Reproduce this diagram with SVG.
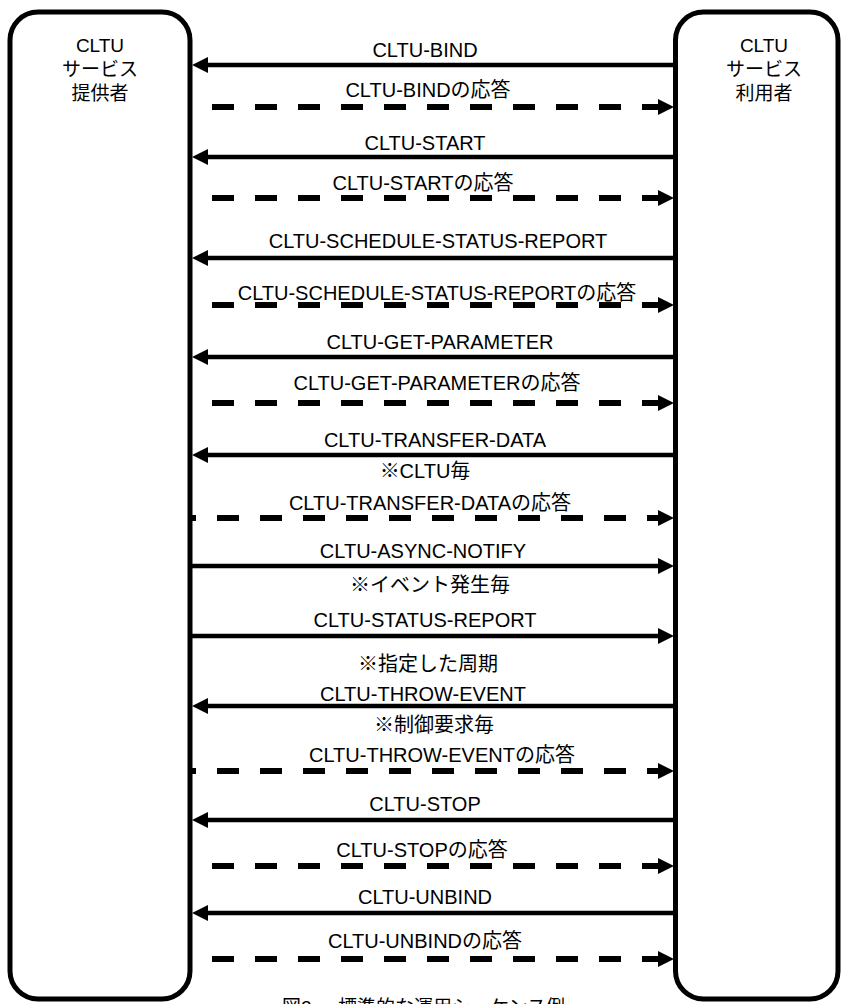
<svg xmlns="http://www.w3.org/2000/svg" width="843" height="1004" viewBox="0 0 843 1004">
<defs>
<style>
.box{fill:#fff;stroke:#000;stroke-width:5}
.t{font-family:"Liberation Sans","Noto Sans CJK JP",sans-serif;font-size:20px;fill:#000;text-anchor:middle}
.bt{font-family:"Liberation Sans","Noto Sans CJK JP",sans-serif;font-size:19px;fill:#000;text-anchor:middle}
.cap{font-family:"Liberation Sans","Noto Sans CJK JP",sans-serif;font-size:19px;fill:#000}
.s{stroke:#000;stroke-width:4.5;fill:none}
.d{stroke:#000;stroke-width:6;fill:none;stroke-dasharray:22 21}
</style>
<marker id="ah" viewBox="0 0 16 16" refX="0" refY="8" markerWidth="16" markerHeight="16" markerUnits="userSpaceOnUse" orient="auto">
<path d="M0,0 L16,8 L0,16 Z" fill="#000"/>
</marker>
</defs>
<rect width="843" height="1004" fill="#fff"/>
<g id="provider">
<rect class="box" x="10" y="12" width="180" height="987" rx="28" ry="28"/>
<text class="bt" x="100" y="52">CLTU</text>
<text class="bt" x="100" y="76">サービス</text>
<text class="bt" x="100" y="100">提供者</text>
</g>
<g id="user">
<rect class="box" x="675.5" y="12" width="162.5" height="987" rx="28" ry="28"/>
<text class="bt" x="764" y="52">CLTU</text>
<text class="bt" x="764" y="76">サービス</text>
<text class="bt" x="764" y="100">利用者</text>
</g>
<g id="connectors">
<path class="s" d="M673,65 H208" marker-end="url(#ah)"/>
<path class="d" d="M212,107 H658" marker-end="url(#ah)"/>
<path class="s" d="M673,157 H208" marker-end="url(#ah)"/>
<path class="d" d="M212,198 H658" marker-end="url(#ah)"/>
<path class="s" d="M673,258 H208" marker-end="url(#ah)"/>
<path class="d" d="M212,305 H658" marker-end="url(#ah)"/>
<path class="s" d="M673,357 H208" marker-end="url(#ah)"/>
<path class="d" d="M212,403 H658" marker-end="url(#ah)"/>
<path class="s" d="M673,455 H208" marker-end="url(#ah)"/>
<path class="d" d="M192,518 H658" stroke-dashoffset="18" marker-end="url(#ah)"/>
<path class="s" d="M192,566 H658" marker-end="url(#ah)"/>
<path class="s" d="M192,636 H658" marker-end="url(#ah)"/>
<path class="s" d="M673,706 H208" marker-end="url(#ah)"/>
<path class="d" d="M192,771 H658" stroke-dashoffset="18" marker-end="url(#ah)"/>
<path class="s" d="M673,820 H208" marker-end="url(#ah)"/>
<path class="d" d="M212,866 H658" marker-end="url(#ah)"/>
<path class="s" d="M673,913 H208" marker-end="url(#ah)"/>
<path class="d" d="M212,959 H658" marker-end="url(#ah)"/>
</g>
<g id="labels">
<text class="t" x="425" y="57">CLTU-BIND</text>
<text class="t" x="428" y="97">CLTU-BINDの応答</text>
<text class="t" x="425" y="150">CLTU-START</text>
<text class="t" x="423" y="190">CLTU-STARTの応答</text>
<text class="t" x="438" y="248">CLTU-SCHEDULE-STATUS-REPORT</text>
<text class="t" x="437" y="300">CLTU-SCHEDULE-STATUS-REPORTの応答</text>
<text class="t" x="440" y="349">CLTU-GET-PARAMETER</text>
<text class="t" x="437" y="390">CLTU-GET-PARAMETERの応答</text>
<text class="t" x="435" y="447">CLTU-TRANSFER-DATA</text>
<text class="t" x="425" y="478">※CLTU毎</text>
<text class="t" x="430" y="510">CLTU-TRANSFER-DATAの応答</text>
<text class="t" x="423" y="558">CLTU-ASYNC-NOTIFY</text>
<text class="t" x="430" y="592">※イベント発生毎</text>
<text class="t" x="425" y="627">CLTU-STATUS-REPORT</text>
<text class="t" x="428" y="671">※指定した周期</text>
<text class="t" x="423" y="701">CLTU-THROW-EVENT</text>
<text class="t" x="434" y="732">※制御要求毎</text>
<text class="t" x="442" y="762">CLTU-THROW-EVENTの応答</text>
<text class="t" x="425" y="811">CLTU-STOP</text>
<text class="t" x="422" y="857">CLTU-STOPの応答</text>
<text class="t" x="425" y="904">CLTU-UNBIND</text>
<text class="t" x="425" y="948">CLTU-UNBINDの応答</text>
</g>
<g id="caption">
<text class="cap" y="1014"><tspan x="282">図2</tspan><tspan x="338">標準的な運用シーケンス例</tspan></text>
</g>
</svg>
